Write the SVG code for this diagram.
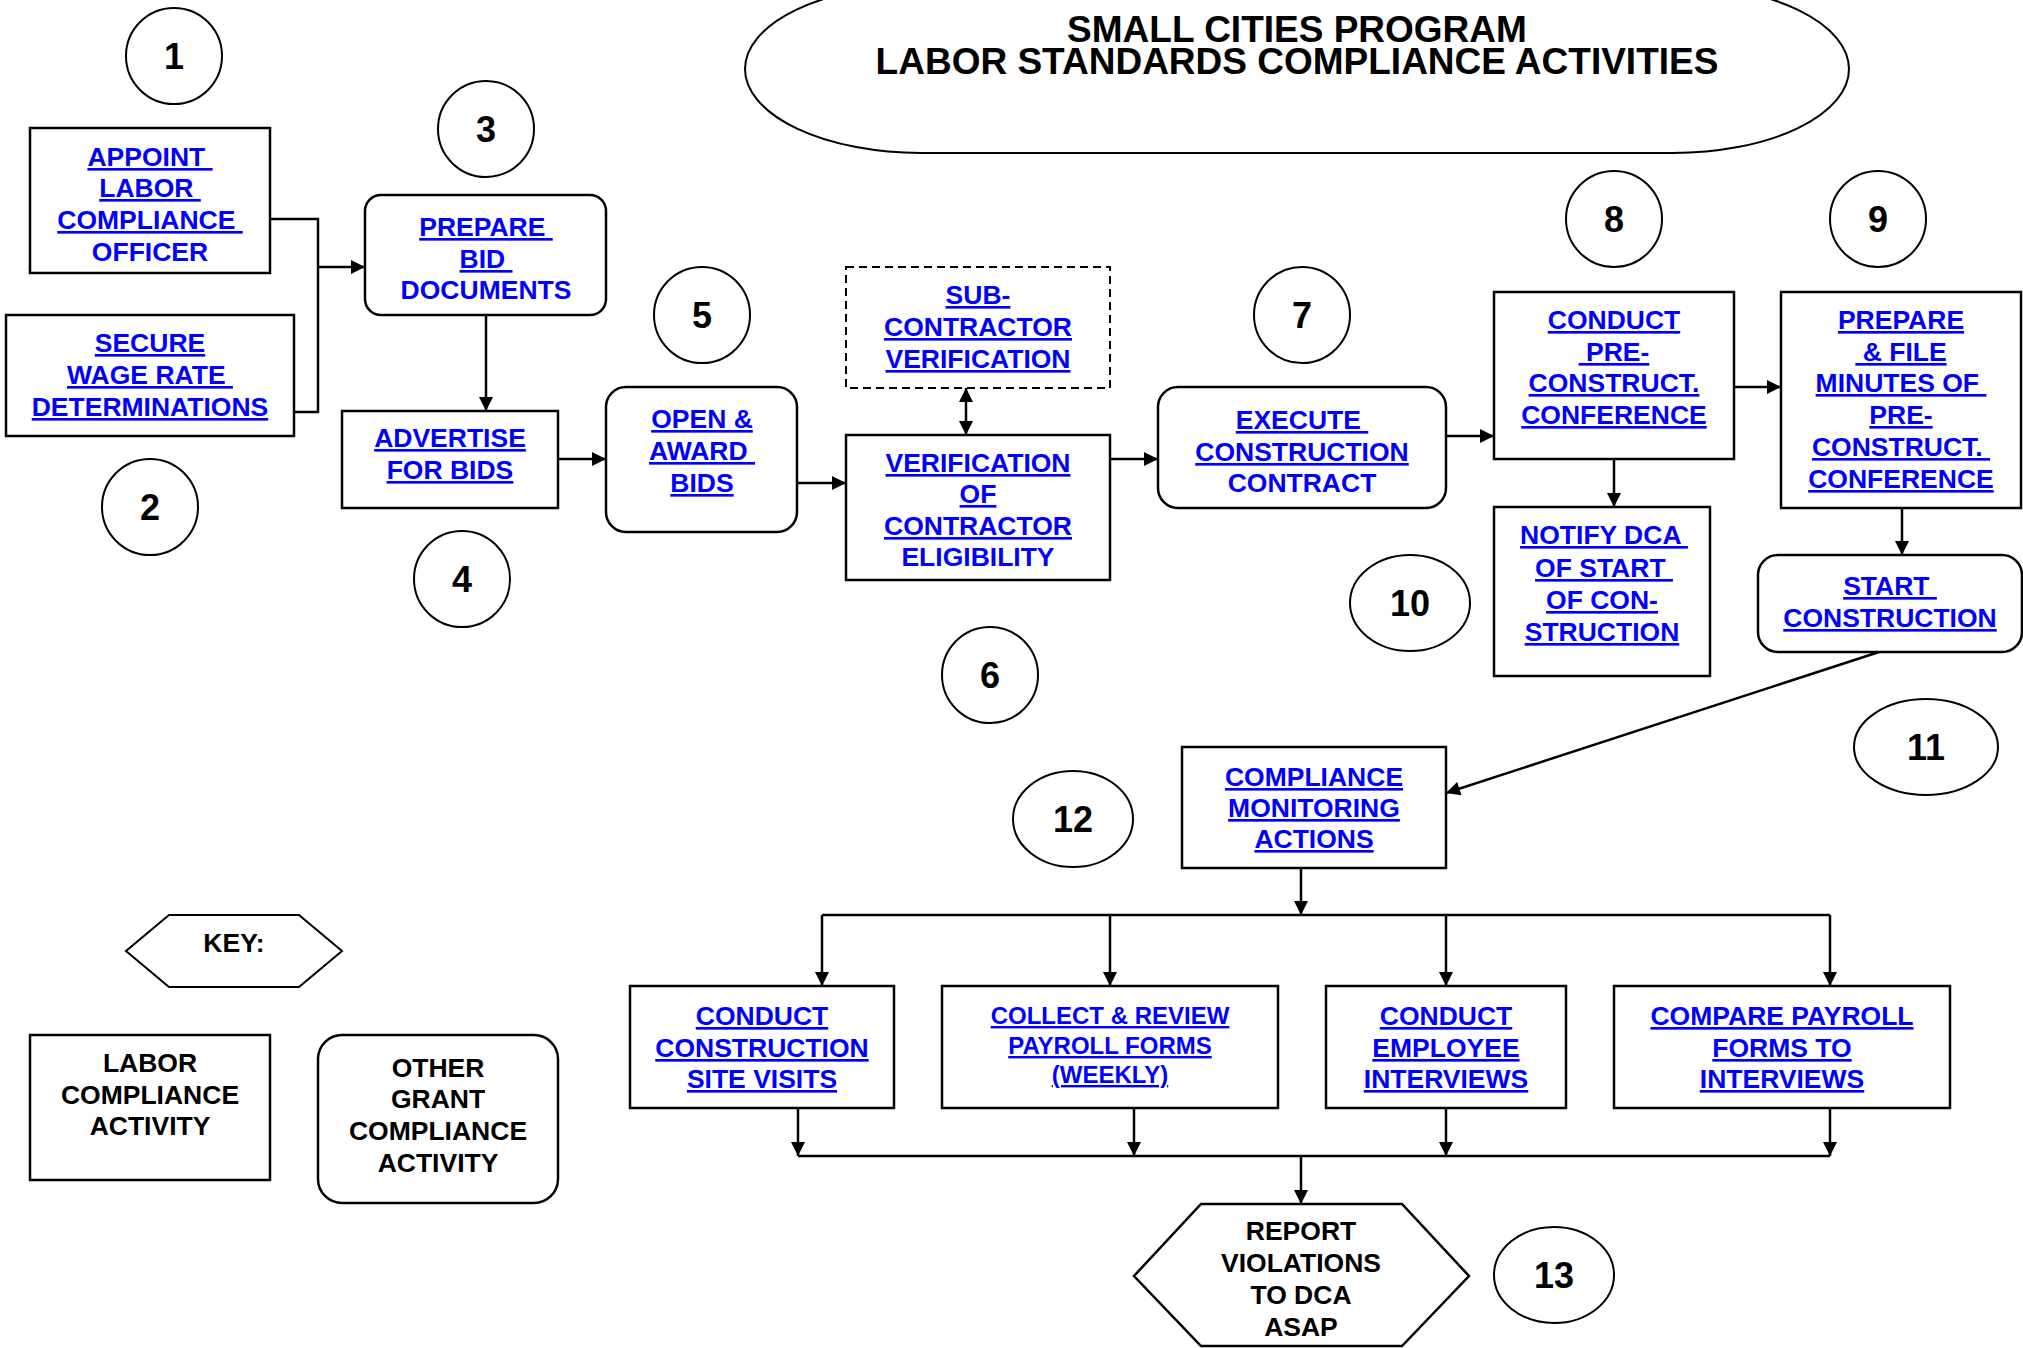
<svg xmlns="http://www.w3.org/2000/svg" width="2023" height="1348" viewBox="0 0 2023 1348">
<style>
text{font-family:"Liberation Sans",Arial,sans-serif;font-weight:bold;text-anchor:middle;white-space:pre}
.b{fill:#0000ff;font-size:26.5px}
.s{fill:#0000ff;font-size:24px}
.u{text-decoration:underline}
.k{fill:#000;font-size:26.5px}
.n{fill:#000;font-size:36px}
.t{fill:#000;font-size:37px}
.box{fill:#fff;stroke:#000;stroke-width:2.5}
.dash{fill:#fff;stroke:#000;stroke-width:2;stroke-dasharray:8,5}
.circ{fill:#fff;stroke:#000;stroke-width:2}
.ln{fill:none;stroke:#000;stroke-width:2.5}
.ar{marker-end:url(#ah)}
</style>
<defs>
<marker id="ah" viewBox="0 0 10 10" refX="10" refY="5" markerWidth="15" markerHeight="14" markerUnits="userSpaceOnUse" orient="auto-start-reverse">
<path d="M0,0 L10,5 L0,10 z" fill="#000"/>
</marker>
</defs>
<rect width="2023" height="1348" fill="#fff"/>

<g id="title">
<rect x="745" y="-15" width="1104" height="168" rx="176" ry="84" class="circ"/>
<text x="1297" y="42" class="t">SMALL CITIES PROGRAM</text>
<text x="1297" y="74" class="t">LABOR STANDARDS COMPLIANCE ACTIVITIES</text>
</g>

<g id="connectors">
<polyline points="270,219 318,219 318,412 294,412" class="ln"/>
<line x1="318" y1="267" x2="365" y2="267" class="ln ar"/>
<line x1="486" y1="315" x2="486" y2="411" class="ln ar"/>
<line x1="558" y1="459" x2="606" y2="459" class="ln ar"/>
<line x1="797" y1="483" x2="846" y2="483" class="ln ar"/>
<line x1="966" y1="388" x2="966" y2="435" class="ln ar" marker-start="url(#ah)"/>
<line x1="1110" y1="459" x2="1158" y2="459" class="ln ar"/>
<line x1="1446" y1="436" x2="1494" y2="436" class="ln ar"/>
<line x1="1734" y1="387" x2="1781" y2="387" class="ln ar"/>
<line x1="1614" y1="459" x2="1614" y2="507" class="ln ar"/>
<line x1="1902" y1="508" x2="1902" y2="555" class="ln ar"/>
<line x1="1879" y1="652" x2="1446" y2="793" class="ln ar"/>
<line x1="1301" y1="868" x2="1301" y2="915" class="ln ar"/>
<line x1="822" y1="915" x2="1830" y2="915" class="ln"/>
<line x1="822" y1="915" x2="822" y2="986" class="ln ar"/>
<line x1="1110" y1="915" x2="1110" y2="986" class="ln ar"/>
<line x1="1446" y1="915" x2="1446" y2="986" class="ln ar"/>
<line x1="1830" y1="915" x2="1830" y2="986" class="ln ar"/>
<line x1="798" y1="1108" x2="798" y2="1156" class="ln ar"/>
<line x1="1134" y1="1108" x2="1134" y2="1156" class="ln ar"/>
<line x1="1446" y1="1108" x2="1446" y2="1156" class="ln ar"/>
<line x1="1830" y1="1108" x2="1830" y2="1156" class="ln ar"/>
<line x1="798" y1="1156" x2="1830" y2="1156" class="ln"/>
<line x1="1301" y1="1156" x2="1301" y2="1204" class="ln ar"/>
</g>

<g id="c1"><ellipse cx="174" cy="56" rx="48" ry="48" class="circ"/><text x="174" y="69" class="n">1</text></g>
<g id="c2"><ellipse cx="150" cy="507" rx="48" ry="48" class="circ"/><text x="150" y="520" class="n">2</text></g>
<g id="c3"><ellipse cx="486" cy="129" rx="48" ry="48" class="circ"/><text x="486" y="142" class="n">3</text></g>
<g id="c4"><ellipse cx="462" cy="579" rx="48" ry="48" class="circ"/><text x="462" y="592" class="n">4</text></g>
<g id="c5"><ellipse cx="702" cy="315" rx="48" ry="48" class="circ"/><text x="702" y="328" class="n">5</text></g>
<g id="c6"><ellipse cx="990" cy="675" rx="48" ry="48" class="circ"/><text x="990" y="688" class="n">6</text></g>
<g id="c7"><ellipse cx="1302" cy="315" rx="48" ry="48" class="circ"/><text x="1302" y="328" class="n">7</text></g>
<g id="c8"><ellipse cx="1614" cy="219" rx="48" ry="48" class="circ"/><text x="1614" y="232" class="n">8</text></g>
<g id="c9"><ellipse cx="1878" cy="219" rx="48" ry="48" class="circ"/><text x="1878" y="232" class="n">9</text></g>
<g id="c10"><ellipse cx="1410" cy="603" rx="60" ry="48" class="circ"/><text x="1410" y="616" class="n">10</text></g>
<g id="c11"><ellipse cx="1926" cy="747" rx="72" ry="48" class="circ"/><text x="1926" y="760" class="n">11</text></g>
<g id="c12"><ellipse cx="1073" cy="819" rx="60" ry="48" class="circ"/><text x="1073" y="832" class="n">12</text></g>
<g id="c13"><ellipse cx="1554" cy="1275" rx="60" ry="48" class="circ"/><text x="1554" y="1288" class="n">13</text></g>

<g id="n1">
<rect x="30" y="128" width="240" height="145" class="box"/>
<text x="150" y="166" class="b u">APPOINT </text>
<text x="150" y="197" class="b u">LABOR </text>
<text x="150" y="229" class="b u">COMPLIANCE </text>
<text x="150" y="261" class="b">OFFICER</text>
</g>
<g id="n2">
<rect x="6" y="315" width="288" height="121" class="box"/>
<text x="150" y="352" class="b u">SECURE</text>
<text x="150" y="384" class="b u">WAGE RATE </text>
<text x="150" y="416" class="b u">DETERMINATIONS</text>
</g>
<g id="n3">
<rect x="365" y="195" width="241" height="120" rx="16" class="box"/>
<text x="486" y="236" class="b u">PREPARE </text>
<text x="486" y="268" class="b u">BID </text>
<text x="486" y="299" class="b">DOCUMENTS</text>
</g>
<g id="n4">
<rect x="342" y="411" width="216" height="97" class="box"/>
<text x="450" y="447" class="b u">ADVERTISE</text>
<text x="450" y="479" class="b u">FOR BIDS</text>
</g>
<g id="n5">
<rect x="606" y="387" width="191" height="145" rx="20" class="box"/>
<text x="702" y="428" class="b u">OPEN &amp;</text>
<text x="702" y="460" class="b u">AWARD </text>
<text x="702" y="492" class="b u">BIDS</text>
</g>
<g id="n5a">
<rect x="846" y="267" width="264" height="121" class="dash"/>
<text x="978" y="304" class="b u">SUB-</text>
<text x="978" y="336" class="b u">CONTRACTOR</text>
<text x="978" y="368" class="b u">VERIFICATION</text>
</g>
<g id="n6">
<rect x="846" y="435" width="264" height="145" class="box"/>
<text x="978" y="472" class="b u">VERIFICATION</text>
<text x="978" y="503" class="b u">OF</text>
<text x="978" y="535" class="b u">CONTRACTOR</text>
<text x="978" y="566" class="b">ELIGIBILITY</text>
</g>
<g id="n7">
<rect x="1158" y="387" width="288" height="121" rx="20" class="box"/>
<text x="1302" y="429" class="b u">EXECUTE </text>
<text x="1302" y="461" class="b u">CONSTRUCTION</text>
<text x="1302" y="492" class="b">CONTRACT</text>
</g>
<g id="n8">
<rect x="1494" y="292" width="240" height="167" class="box"/>
<text x="1614" y="329" class="b u">CONDUCT</text>
<text x="1614" y="361" class="b u"> PRE-</text>
<text x="1614" y="392" class="b u">CONSTRUCT.</text>
<text x="1614" y="424" class="b u">CONFERENCE</text>
</g>
<g id="n9">
<rect x="1781" y="292" width="240" height="216" class="box"/>
<text x="1901" y="329" class="b u">PREPARE</text>
<text x="1901" y="361" class="b u"> &amp; FILE</text>
<text x="1901" y="392" class="b u">MINUTES OF </text>
<text x="1901" y="424" class="b u">PRE-</text>
<text x="1901" y="456" class="b u">CONSTRUCT. </text>
<text x="1901" y="488" class="b u">CONFERENCE</text>
</g>
<g id="n10">
<rect x="1494" y="507" width="216" height="169" class="box"/>
<text x="1604" y="544" class="b u">NOTIFY DCA </text>
<text x="1604" y="577" class="b u">OF START </text>
<text x="1602" y="609" class="b u">OF CON-</text>
<text x="1602" y="641" class="b u">STRUCTION</text>
</g>
<g id="n11">
<rect x="1758" y="555" width="264" height="97" rx="20" class="box"/>
<text x="1890" y="595" class="b u">START </text>
<text x="1890" y="627" class="b u">CONSTRUCTION</text>
</g>
<g id="n12">
<rect x="1182" y="747" width="264" height="121" class="box"/>
<text x="1314" y="786" class="b u">COMPLIANCE</text>
<text x="1314" y="817" class="b u">MONITORING</text>
<text x="1314" y="848" class="b u">ACTIONS</text>
</g>
<g id="n12a">
<rect x="630" y="986" width="264" height="122" class="box"/>
<text x="762" y="1025" class="b u">CONDUCT</text>
<text x="762" y="1057" class="b u">CONSTRUCTION</text>
<text x="762" y="1088" class="b u">SITE VISITS</text>
</g>
<g id="n12b">
<rect x="942" y="986" width="336" height="122" class="box"/>
<text x="1110" y="1024" class="s u">COLLECT &amp; REVIEW</text>
<text x="1110" y="1054" class="s u">PAYROLL FORMS</text>
<text x="1110" y="1083" class="s u">(WEEKLY)</text>
</g>
<g id="n12c">
<rect x="1326" y="986" width="240" height="122" class="box"/>
<text x="1446" y="1025" class="b u">CONDUCT</text>
<text x="1446" y="1057" class="b u">EMPLOYEE</text>
<text x="1446" y="1088" class="b u">INTERVIEWS</text>
</g>
<g id="n12d">
<rect x="1614" y="986" width="336" height="122" class="box"/>
<text x="1782" y="1025" class="b u">COMPARE PAYROLL</text>
<text x="1782" y="1057" class="b u">FORMS TO</text>
<text x="1782" y="1088" class="b u">INTERVIEWS</text>
</g>
<g id="n13">
<polygon points="1201,1204 1402,1204 1469,1276 1402,1346 1201,1346 1134,1276" class="box"/>
<text x="1301" y="1240" class="k">REPORT</text>
<text x="1301" y="1272" class="k">VIOLATIONS</text>
<text x="1301" y="1304" class="k">TO DCA</text>
<text x="1301" y="1336" class="k">ASAP</text>
</g>

<g id="key">
<polygon points="169,915 299,915 342,951 299,987 169,987 126,951" class="box" style="stroke-width:2"/>
<text x="234" y="952" class="k">KEY:</text>
</g>
<g id="key-labor">
<rect x="30" y="1035" width="240" height="145" class="box"/>
<text x="150" y="1072" class="k">LABOR</text>
<text x="150" y="1104" class="k">COMPLIANCE</text>
<text x="150" y="1135" class="k">ACTIVITY</text>
</g>
<g id="key-other">
<rect x="318" y="1035" width="240" height="168" rx="24" class="box"/>
<text x="438" y="1077" class="k">OTHER</text>
<text x="438" y="1108" class="k">GRANT</text>
<text x="438" y="1140" class="k">COMPLIANCE</text>
<text x="438" y="1172" class="k">ACTIVITY</text>
</g>
</svg>
